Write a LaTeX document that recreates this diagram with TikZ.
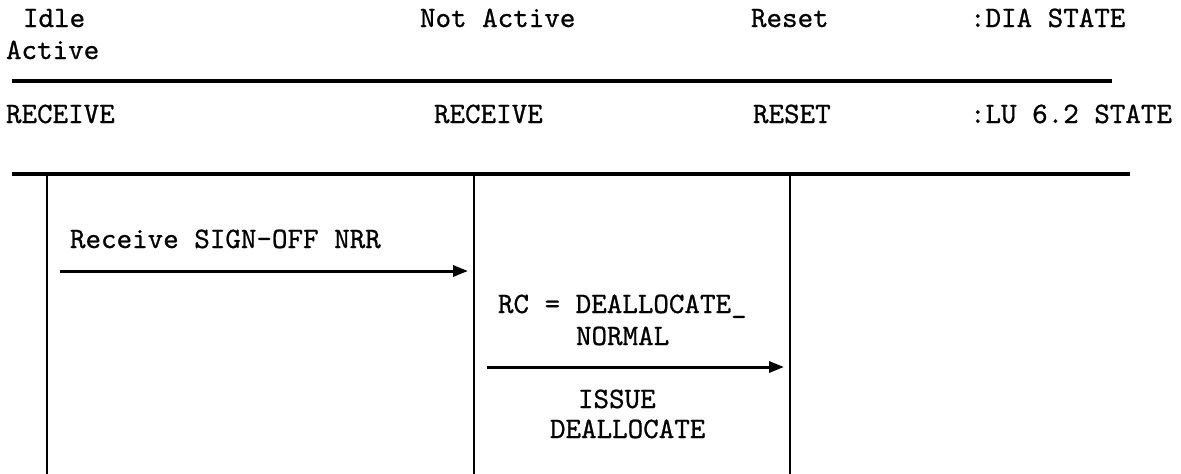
\documentclass[tikz,border=0pt]{standalone}
\usepackage{fontspec}
\newfontfamily\typew{lmmono10-regular}[Extension=.otf, FakeBold=0.8]
\usetikzlibrary{arrows.meta}
\tikzset{
  lbl/.style={anchor=base west, inner sep=0pt, outer sep=0pt, font=\fontsize{29.6}{29.6}\selectfont\typew},
  rule/.style={line width=3.5pt},
  vline/.style={line width=2.4pt},
  msg/.style={line width=3pt, -{Triangle[length=15pt,width=11pt]}}
}
\begin{document}
\begin{tikzpicture}[x=1pt,y=-1pt]
\useasboundingbox (0,0) rectangle (1181,474);
% header row 1
\node[lbl] (idle) at (23,27) {Idle};
\node[lbl] (active) at (6,59) {Active};
\node[lbl] (notactive) at (420,27) {Not Active};
\node[lbl] (reset) at (751,27) {Reset};
\node[lbl] (dia) at (970,27) {:DIA STATE};
% rule 1
\coordinate (r1a) at (12,81);
\coordinate (r1b) at (1112,81);
\draw[rule] (r1a) -- (r1b);
% header row 2
\node[lbl] (recv1) at (6,123) {RECEIVE};
\node[lbl] (recv2) at (434,123) {RECEIVE};
\node[lbl] (resetU) at (753,123) {RESET};
\node[lbl] (lu) at (970,123) {:LU 6.2 STATE};
% rule 2
\coordinate (r2a) at (12,174);
\coordinate (r2b) at (1130,174);
\draw[rule] (r2a) -- (r2b);
% verticals
\coordinate (v1t) at (47,174);  \coordinate (v1b) at (47,474);
\coordinate (v2t) at (474,174); \coordinate (v2b) at (474,474);
\coordinate (v3t) at (790,174); \coordinate (v3b) at (790,474);
\draw[vline] (v1t) -- (v1b);
\draw[vline] (v2t) -- (v2b);
\draw[vline] (v3t) -- (v3b);
% message 1
\node[lbl] (m1) at (70,248) {Receive SIGN-OFF NRR};
\coordinate (a1s) at (60,271);
\coordinate (a1e) at (468,271);
\draw[msg] (a1s) -- (a1e);
% message 2
\node[lbl] (rc) at (498,313) {RC = DEALLOCATE\_};
\node[lbl] (normal) at (576,345) {NORMAL};
\coordinate (a2s) at (487,367);
\coordinate (a2e) at (784,367);
\draw[msg] (a2s) -- (a2e);
\node[lbl] (issue) at (578,408) {ISSUE};
\node[lbl] (dealloc) at (550,438) {DEALLOCATE};
\end{tikzpicture}
\end{document}
